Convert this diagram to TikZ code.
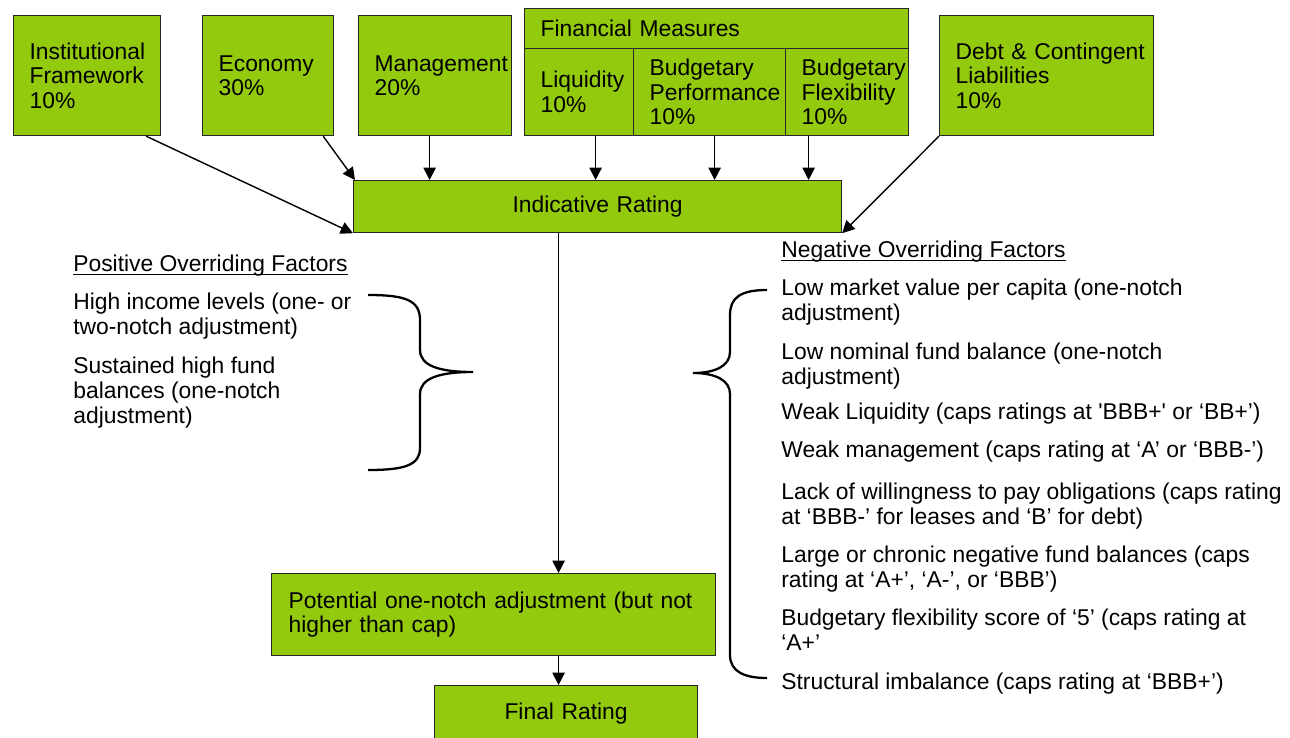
\documentclass[tikz,border=0pt]{standalone}
\usepackage{amsmath}
\usepackage{fontspec}
\setmainfont{Liberation Sans}
\usetikzlibrary{arrows.meta}

\definecolor{ratinggreen}{RGB}{148,202,14}

\tikzset{
	factor/.style={draw=black!85, line width=0.7pt, fill=ratinggreen, anchor=north west,
		align=left, inner xsep=0.32cm, inner ysep=0pt, font=\fontsize{13}{14}\selectfont},
	flow/.style={line width=0.8pt, -{Triangle[length=7pt,width=7pt]}},
	note/.style={anchor=north west, align=left, inner sep=0pt, font=\fontsize{13}{14}\selectfont},
	curly/.style={line width=1.3pt}
}

\begin{document}
\begin{tikzpicture}[x=0.02cm, y=-0.02cm]
	\useasboundingbox (0,0) rectangle (1290,737);

	% weighted factors
	\node[factor, text width=2.30cm, minimum height=2.40cm] (inst) at (13,15) {Institutional\\Framework\\10\%};
	\node[factor, text width=1.98cm, minimum height=2.40cm] (econ) at (202,15) {Economy\\30\%};
	\node[factor, text width=2.42cm, minimum height=2.40cm] (mgmt) at (358,15) {Management\\20\%};
	\node[factor, text width=7.04cm, minimum height=0.80cm] (finhdr) at (524,8) {Financial Measures};
	\node[factor, text width=1.54cm, minimum height=1.74cm] (liq) at (524,48) {Liquidity\\10\%};
	\node[factor, text width=2.40cm, minimum height=1.74cm] (bperf) at (633,48) {Budgetary\\Performance\\10\%};
	\node[factor, text width=1.82cm, minimum height=1.74cm] (bflex) at (785,48) {Budgetary\\Flexibility\\10\%};
	\node[factor, text width=3.64cm, minimum height=2.40cm] (debt) at (939,15) {\mbox{Debt \& Contingent}\\Liabilities\\10\%};

	% ratings
	\node[factor, align=center, text width=9.12cm, minimum height=1.04cm] (indic) at (353,180) {Indicative Rating};
	\node[factor, inner xsep=0.34cm, text width=8.20cm, minimum height=1.64cm] (potential) at (271,573) {Potential one-notch adjustment (but not\\higher than cap)};
	\node[factor, align=center, text width=4.62cm, minimum height=1.12cm] (final) at (434,685) {Final Rating};

	\draw[flow] ([xshift=-0.30cm]inst.south east) -- (indic.south west);
	\draw[flow] ([xshift=-0.22cm]econ.south east) -- ([xshift=0.04cm]indic.north west);
	\draw[flow] ([xshift=-0.11cm]mgmt.south) -- ([xshift=-0.11cm]mgmt.south |- indic.north);
	\draw[flow] ([xshift=0.33cm]liq.south) -- ([xshift=0.33cm]liq.south |- indic.north);
	\draw[flow] ([xshift=0.10cm]bperf.south) -- ([xshift=0.10cm]bperf.south |- indic.north);
	\draw[flow] ([xshift=-0.77cm]bflex.south) -- ([xshift=-0.77cm]bflex.south |- indic.north);
	\draw[flow] (debt.south west) -- (indic.south east);
	\draw[flow] ([xshift=-0.78cm]indic.south) -- ([xshift=-0.78cm]indic.south |- potential.north);
	\draw[flow] ([xshift=-0.78cm]indic.south |- potential.south) -- ([xshift=-0.78cm]indic.south |- final.north);

	% positive overriding factors
	\node[note] (poshead) at (73,255) {\underline{\smash[b]{Positive Overriding Factors}}};
	\node[note] (pos1) at (73,293) {High income levels (one- or\\two-notch adjustment)};
	\node[note] (pos2) at (73,357) {Sustained high fund\\balances (one-notch\\adjustment)};
	\draw[curly] (368,295) .. controls (405,295) and (420,300) .. (420,320) -- (420,350)
		.. controls (420,366) and (440,372) .. (473,372)
		.. controls (440,372) and (420,378) .. (420,394) -- (420,448)
		.. controls (420,465) and (405,470) .. (368,470);

	% negative overriding factors
	\node[note] (neghead) at (781,241) {\underline{\smash[b]{Negative Overriding Factors}}};
	\node[note] (neg1) at (781,279) {Low market value per capita (one-notch\\adjustment)};
	\node[note] (neg2) at (781,343) {Low nominal fund balance (one-notch\\adjustment)};
	\node[note] (neg3) at (781,403) {Weak Liquidity (caps ratings at \textquotesingle BBB+\textquotesingle{} or ‘BB+’)};
	\node[note] (neg4) at (781,441) {Weak management (caps rating at ‘A’ or ‘BBB-’)};
	\node[note] (neg5) at (781,483) {Lack of willingness to pay obligations (caps rating\\at ‘BBB-’ for leases and ‘B’ for debt)};
	\node[note] (neg6) at (781,546) {Large or chronic negative fund balances (caps\\rating at ‘A+’, ‘A-’, or ‘BBB’)};
	\node[note] (neg7) at (781,609) {Budgetary flexibility score of ‘5’ (caps rating at\\‘A+’};
	\node[note] (neg8) at (781,673) {Structural imbalance (caps rating at ‘BBB+’)};
	\draw[curly] (767,290) .. controls (740,290) and (730,298) .. (730,315) -- (730,352)
		.. controls (730,366) and (715,373) .. (693,373)
		.. controls (715,373) and (730,380) .. (730,394) -- (730,655)
		.. controls (730,672) and (745,678) .. (767,678);
\end{tikzpicture}
\end{document}
